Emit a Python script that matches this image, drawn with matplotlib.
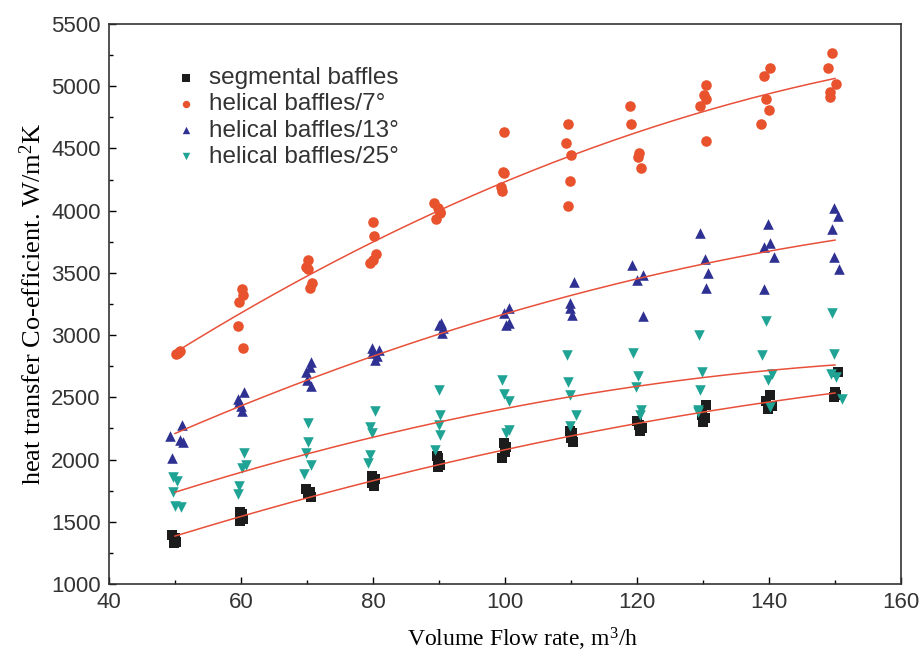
import numpy as np
import matplotlib
matplotlib.use("Agg")
import matplotlib.pyplot as plt
from matplotlib.ticker import MultipleLocator

plt.rcParams["mathtext.fontset"] = "custom"
plt.rcParams["mathtext.rm"] = "Liberation Serif"
plt.rcParams["mathtext.it"] = "Liberation Serif:italic"

# ---- data ----
seg_x = [49.6, 50.0, 50.2, 49.8,
         59.8, 60.2, 60.3, 59.9,
         69.8, 70.4, 70.1, 70.6,
         79.8, 80.3, 79.9, 80.1,
         89.7, 89.9, 90.1, 89.8,
         99.9, 100.2, 100.0, 99.6,
         109.8, 110.2, 110.0, 110.3,
         120.0, 120.3, 120.8, 120.5,
         130.5, 129.8, 130.3, 130.0,
         140.2, 139.6, 140.5, 139.8,
         150.5, 150.0, 150.2, 149.8]
seg_y = [1390, 1370, 1340, 1330,
         1580, 1560, 1520, 1510,
         1760, 1740, 1720, 1700,
         1870, 1840, 1810, 1790,
         2030, 2010, 1960, 1940,
         2130, 2100, 2060, 2010,
         2230, 2210, 2170, 2140,
         2310, 2280, 2250, 2230,
         2440, 2360, 2330, 2300,
         2520, 2470, 2430, 2410,
         2700, 2540, 2520, 2500]

h7_x = [50.2, 50.7, 50.4,
        60.2, 60.3, 59.7, 59.5, 60.3,
        70.1, 69.8, 70.2, 70.8, 70.5,
        80.0, 80.2, 80.5, 80.0, 79.5,
        89.3, 90.1, 89.6, 90.2, 89.8,
        99.8, 99.7, 99.8, 99.4, 99.5,
        109.6, 109.3, 110.0, 109.8, 109.6,
        118.9, 119.1, 120.3, 120.2, 120.6,
        130.4, 130.2, 130.5, 129.5, 130.5,
        140.2, 139.2, 139.5, 140.0, 138.8,
        149.5, 149.0, 150.1, 149.2, 149.2]
h7_y = [2850, 2870, 2860,
        3370, 3320, 3270, 3070, 2900,
        3600, 3550, 3530, 3420, 3380,
        3910, 3800, 3650, 3600, 3580,
        4060, 3990, 3930, 3980, 4020,
        4630, 4310, 4300, 4190, 4160,
        4700, 4540, 4450, 4240, 4040,
        4840, 4700, 4460, 4430, 4340,
        5010, 4930, 4900, 4840, 4560,
        5150, 5080, 4900, 4810, 4700,
        5270, 5150, 5020, 4950, 4910]

h13_x = [51.0, 49.3, 50.8, 51.2, 49.6,
         60.5, 59.6, 59.7, 60.0, 60.2,
         70.6, 70.4, 69.8, 70.0, 70.6,
         79.9, 80.9, 79.8, 80.6, 80.3,
         90.3, 90.0, 90.6, 90.5,
         100.6, 99.9, 100.6, 100.2,
         110.4, 109.8, 109.9, 110.2,
         119.3, 120.9, 120.0, 120.9,
         129.6, 130.3, 130.8, 130.5,
         139.9, 140.2, 139.3, 140.8, 139.3,
         149.8, 150.5, 149.6, 149.9, 150.6]
h13_y = [2280, 2190, 2160, 2140, 2010,
         2540, 2490, 2460, 2430, 2390,
         2780, 2740, 2700, 2640, 2590,
         2900, 2880, 2860, 2830, 2800,
         3100, 3080, 3060, 3020,
         3220, 3180, 3100, 3080,
         3430, 3260, 3220, 3160,
         3560, 3480, 3440, 3150,
         3820, 3610, 3500, 3380,
         3890, 3740, 3710, 3630, 3370,
         4020, 3960, 3850, 3630, 3530]

h25_x = [49.7, 50.3, 49.7, 50.0, 50.9,
         60.5, 60.8, 60.1, 59.7, 59.6,
         70.1, 70.1, 69.8, 70.6, 69.6,
         80.3, 79.6, 79.9, 79.5, 79.3,
         90.0, 90.2, 90.0, 90.1, 89.4,
         99.5, 99.8, 100.6, 100.6, 100.2,
         109.4, 109.6, 109.9, 110.8, 109.8,
         119.4, 120.2, 119.9, 120.6, 120.4,
         129.4, 129.9, 129.5, 129.3, 129.3,
         139.6, 139.0, 140.4, 139.9, 140.1,
         149.6, 149.9, 149.4, 150.2, 151.0]
h25_y = [1860, 1830, 1740, 1630, 1620,
         2050, 1960, 1930, 1790, 1720,
         2290, 2140, 2050, 1960, 1880,
         2390, 2260, 2210, 2040, 1970,
         2560, 2360, 2280, 2200, 2080,
         2640, 2530, 2470, 2240, 2210,
         2840, 2620, 2520, 2360, 2270,
         2860, 2670, 2580, 2400, 2360,
         3000, 2700, 2560, 2400, 2380,
         3110, 2840, 2690, 2640, 2420,
         3180, 2850, 2690, 2660, 2490]

labels = ["segmental baffles", "helical baffles/7\u00b0",
          "helical baffles/13\u00b0", "helical baffles/25\u00b0"]
colors = ["#1c1c1c", "#e8532e", "#2e3192", "#1fa394"]
markers = ["s", "o", "^", "v"]

series = [(seg_x, seg_y), (h7_x, h7_y), (h13_x, h13_y), (h25_x, h25_y)]

fig = plt.figure(figsize=(9.23, 6.53), dpi=100)
ax = fig.add_axes([109/923, 1-584/653, (901-109)/923, (584-24)/653])

for (xs, ys), lab, c, m in zip(series, labels, colors, markers):
    ax.scatter(xs, ys, marker=m, s=58, color=c, label=lab, zorder=3, linewidths=0)

# quadratic fit lines through each series
xf = np.linspace(50, 150, 200)
for xs, ys in series:
    p = np.polyfit(xs, ys, 2)
    ax.plot(xf, np.polyval(p, xf), color="#e8503a", lw=1.1, zorder=4)

ax.set_xlim(40, 160)
ax.set_ylim(1000, 5500)
ax.xaxis.set_major_locator(MultipleLocator(20))
ax.xaxis.set_minor_locator(MultipleLocator(10))
ax.yaxis.set_major_locator(MultipleLocator(500))
ax.yaxis.set_minor_locator(MultipleLocator(250))
ax.tick_params(which="both", direction="in", top=False, right=False)
ax.tick_params(which="major", length=5, width=1)
ax.tick_params(which="minor", length=3, width=1)
ax.tick_params(axis="x", pad=6)
ax.tick_params(axis="y", pad=6)
for lab in ax.get_xticklabels() + ax.get_yticklabels():
    lab.set_fontfamily("Liberation Sans")
    lab.set_fontsize(16)
    lab.set_color("#333333")
for s in ax.spines.values():
    s.set_linewidth(1.2)
    s.set_color("#333333")

ax.set_xlabel("Volume Flow rate, m$^3$/h", fontfamily="Liberation Serif",
              fontsize=17, labelpad=5)
ax.xaxis.set_label_coords(0.522, -0.075)
ax.set_ylabel("heat transfer Co-efficient. W/m$^2$K", fontfamily="Liberation Serif",
              fontsize=19, labelpad=4)

leg = ax.legend(loc="upper left", bbox_to_anchor=(0.07, 0.94), frameon=False,
                handletextpad=0.45, labelspacing=0.17, markerscale=0.7,
                handlelength=1.0, borderaxespad=0,
                prop={"family": "Liberation Sans", "size": 17.5})
for t in leg.get_texts():
    t.set_color("#333333")

fig.savefig("out.png", dpi=100)
